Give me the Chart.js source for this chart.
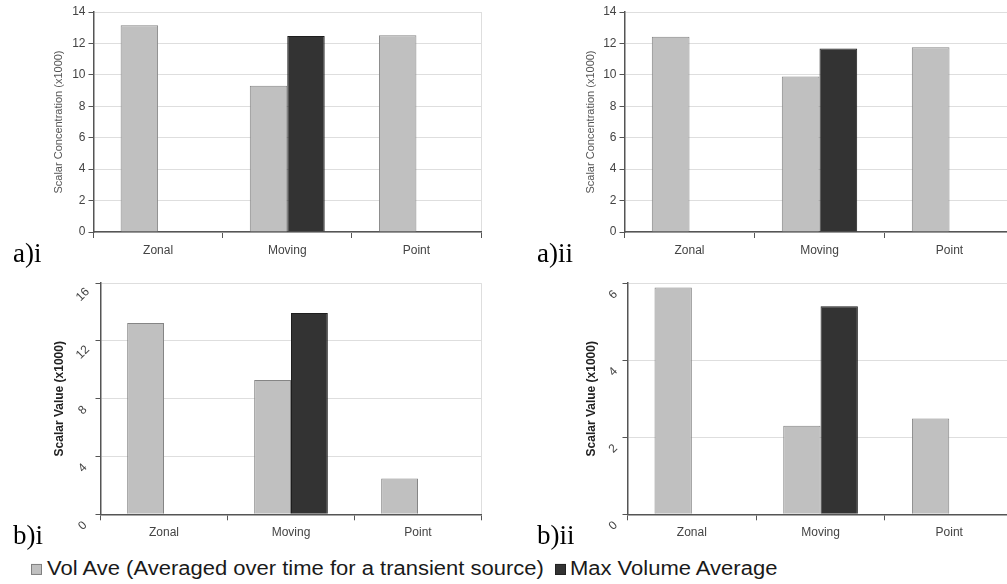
<!DOCTYPE html>
<html>
<head>
<meta charset="utf-8">
<script src="https://cdn.jsdelivr.net/npm/chart.js@4.4.1/dist/chart.umd.min.js"></script>
<style>
html,body{margin:0;padding:0;background:#fff;overflow:hidden;width:1007px;height:584px;position:relative}
canvas{position:absolute}
.lab{position:absolute;font-family:"Liberation Serif","Times New Roman",serif;font-size:27px;line-height:27px;color:#000;white-space:nowrap}
#legend{position:absolute;left:31px;top:558px;height:22px;display:flex;align-items:center;font-family:"Liberation Sans",Arial,sans-serif;font-size:22px;line-height:22px;color:#1a1a1a;white-space:nowrap;transform:scaleY(0.89);transform-origin:0 11px}
#legend .box{display:inline-block;width:11px;height:11px;box-sizing:border-box;transform:scaleY(1.12)}
</style>
</head>
<body>
<canvas id="a1" width="500" height="270" style="left:0;top:0;width:500px;height:270px"></canvas>
<canvas id="a2" width="520" height="270" style="left:500px;top:0;width:520px;height:270px"></canvas>
<canvas id="b1" width="500" height="280" style="left:0;top:270px;width:500px;height:280px"></canvas>
<canvas id="b2" width="520" height="280" style="left:500px;top:270px;width:520px;height:280px"></canvas>
<div id="labels"></div>
<div id="legend"></div>
<script>
// ---- data ----
const categories = ['Zonal', 'Moving', 'Point'];
const seriesNames = ['Vol Ave (Averaged over time for a transient source)', 'Max Volume Average'];
const panelLabels = ['a)i', 'a)ii', 'b)i', 'b)ii'];
const aTitle = 'Scalar Concentration (x1000)';
const bTitle = 'Scalar Value (x1000)';

const a1Vol = [13.15, 9.31, 12.52];
const a1Max = [null, 12.47, null];
const a2Vol = [12.43, 9.89, 11.75];
const a2Max = [null, 11.67, null];
const b1Vol = [13.25, 9.30, 2.48];
const b1Max = [null, 13.93, null];
const b2Vol = [5.89, 2.30, 2.49];
const b2Max = [null, 5.40, null];

const aYTicks = [0, 2, 4, 6, 8, 10, 12, 14];
const b1YTicks = [0, 4, 8, 12, 16];
const b2YTicks = [0, 2, 4, 6];

// ---- styles ----
const volFill = '#c0c0c0', volEdge = '#858585';
const maxFill = '#333333', maxEdge = '#1e1e1e';
const gridCol = '#dedede', axisCol = '#555555', tickCol = '#444444';
Chart.defaults.font.family = '"Liberation Sans", Arial, sans-serif';

function makeChart(id, vol, mx, yTicks, g) {
  const step = yTicks[1] - yTicks[0];
  const rot = g.rot || 0;
  return new Chart(document.getElementById(id), {
    type: 'bar',
    data: {
      labels: categories,
      datasets: [
        {label: seriesNames[0], data: vol, backgroundColor: volFill, borderColor: volEdge, borderWidth: 1},
        {label: seriesNames[1], data: mx, backgroundColor: maxFill, borderColor: maxEdge, borderWidth: 1}
      ]
    },
    options: {
      responsive: false, animation: false, devicePixelRatio: 1,
      layout: {padding: {left: 0, top: g.top, right: g.w - g.right, bottom: 0}},
      plugins: {legend: {display: false}, tooltip: {enabled: false}},
      datasets: {bar: {categoryPercentage: 0.58, barPercentage: 1}},
      scales: {
        x: {
          grid: {offset: true, color: c => (c.type === 'scale' ? gridCol : 'rgba(0,0,0,0)'),
                 tickColor: axisCol, tickLength: 6, lineWidth: 1},
          border: {color: axisCol, width: 1.5},
          ticks: {color: tickCol, font: {size: 12}, padding: 5, autoSkip: false, maxRotation: 0},
          afterFit: s => { s.height = g.h - g.bottom; }
        },
        y: {
          min: yTicks[0], max: yTicks[yTicks.length - 1],
          grid: {color: gridCol, tickColor: axisCol, tickLength: 5, lineWidth: 1},
          border: {color: axisCol, width: 1.5},
          ticks: {stepSize: step, autoSkip: false, color: tickCol, font: {size: 12},
                  padding: rot ? 6 : 3, minRotation: rot, maxRotation: rot,
                  crossAlign: rot ? 'center' : 'near', labelOffset: rot ? 11.5 : 0},
          title: {display: true, text: g.title, color: g.titleColor, font: g.titleFont,
                  padding: {top: g.tx - g.titleFont.size * 1.2 / 2, bottom: 0}},
          afterFit: s => { s.width = g.left; }
        }
      }
    }
  });
}

const aFont = {size: 11, weight: 'normal'};
const bFont = {size: 12, weight: 'bold'};
makeChart('a1', a1Vol, a1Max, aYTicks, {left: 93.5, right: 481, top: 12, bottom: 232, w: 500, h: 270, tx: 59.3, title: aTitle, titleColor: '#555', titleFont: aFont});
makeChart('a2', a2Vol, a2Max, aYTicks, {left: 124.5, right: 514.5, top: 12, bottom: 232, w: 520, h: 270, tx: 90.7, title: aTitle, titleColor: '#555', titleFont: aFont});
makeChart('b1', b1Vol, b1Max, b1YTicks, {left: 100.5, right: 481.5, top: 11.7, bottom: 244.3, w: 500, h: 280, tx: 60, rot: 45, title: bTitle, titleColor: '#222', titleFont: bFont});
makeChart('b2', b2Vol, b2Max, b2YTicks, {left: 127.5, right: 513.6, top: 11, bottom: 244.3, w: 520, h: 280, tx: 91.7, rot: 45, title: bTitle, titleColor: '#222', titleFont: bFont});

// panel labels
const labPos = [[13, 240.4], [537, 240.4], [13, 522.4], [537, 522.4]];
const labBox = document.getElementById('labels');
panelLabels.forEach((t, i) => {
  const d = document.createElement('div');
  d.className = 'lab';
  d.style.left = labPos[i][0] + 'px';
  d.style.top = labPos[i][1] + 'px';
  d.textContent = t;
  labBox.appendChild(d);
});

// legend
const leg = document.getElementById('legend');
const legCols = [[volFill, '#808080'], [maxFill, '#222']];
seriesNames.forEach((n, i) => {
  const b = document.createElement('span');
  b.className = 'box';
  b.style.background = legCols[i][0];
  b.style.border = '1px solid ' + legCols[i][1];
  b.style.marginLeft = i === 0 ? '0px' : '11px';
  b.style.marginRight = i === 0 ? '5px' : '4px';
  const s = document.createElement('span');
  s.textContent = n;
  leg.appendChild(b);
  leg.appendChild(s);
});
</script>
</body>
</html>
